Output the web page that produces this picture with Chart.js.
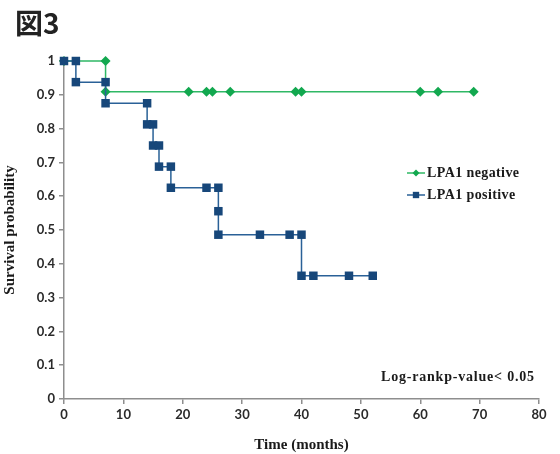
<!DOCTYPE html>
<html>
<head>
<meta charset="utf-8">
<script src="https://cdn.jsdelivr.net/npm/chart.js@4/dist/chart.umd.min.js"></script>
<style>
  html, body { margin: 0; padding: 0; background: #fff; }
  canvas { display: block; }
</style>
</head>
<body>
<canvas id="kmChart" width="560" height="454"></canvas>
<script>
// Kaplan-Meier curves (step points)
const negMonths = [0, 7, 7, 21, 24, 25, 28, 39, 40, 60, 63, 69];
const negSurvival = [1, 1, 0.909, 0.909, 0.909, 0.909, 0.909, 0.909, 0.909, 0.909, 0.909, 0.909];

const posMonths = [0, 2, 2, 7, 7, 14, 14, 15, 15, 16, 16, 18, 18, 24, 26, 26, 26, 33, 38, 40, 40, 42, 48, 52];
const posSurvival = [1, 1, 0.9375, 0.9375, 0.875, 0.875, 0.8125, 0.8125, 0.75, 0.75, 0.6875, 0.6875,
  0.625, 0.625, 0.625, 0.5556, 0.4861, 0.4861, 0.4861, 0.4861, 0.3646, 0.3646, 0.3646, 0.3646];

const xTicks = [0, 10, 20, 30, 40, 50, 60, 70, 80];
const yTicks = [0, 0.1, 0.2, 0.3, 0.4, 0.5, 0.6, 0.7, 0.8, 0.9, 1];

const seriesLabels = ['LPA1 negative', 'LPA1 positive'];
const figureTitle = '図3';
const pValueNote = 'Log-rankp-value< 0.05';

const toPoints = (xs, ys) => xs.map((x, i) => ({ x: x, y: ys[i] }));

const axisGrey = '#8e8e8e';
const tickFont = { family: "Lato, 'Open Sans', sans-serif", size: 13, weight: 'bold' };
const serifBold = { family: "'Liberation Serif', 'DejaVu Serif', serif", size: 15, weight: 'bold' };

// Title, p-value note and the line+marker legend
const annotations = {
  id: 'annotations',
  afterDraw(chart) {
    const ctx = chart.ctx;
    ctx.save();
    ctx.fillStyle = '#222';
    ctx.font = "bold 28px 'Noto Sans CJK JP', sans-serif";
    ctx.textBaseline = 'middle';
    ctx.textAlign = 'left';
    ctx.fillText(figureTitle, 15, 23);

    ctx.fillStyle = '#1a1a1a';
    ctx.font = "bold 14px 'Liberation Serif', serif";
    ctx.letterSpacing = '0.8px';
    ctx.fillText(pValueNote, 381, 377);

    // legend, green first
    const order = [1, 0];
    const legendY = [173, 195];
    ctx.letterSpacing = '0.4px';
    order.forEach((dsIndex, row) => {
      const ds = chart.data.datasets[dsIndex];
      const y = legendY[row];
      ctx.strokeStyle = ds.borderColor;
      ctx.lineWidth = 1.5;
      ctx.beginPath();
      ctx.moveTo(407, y);
      ctx.lineTo(425, y);
      ctx.stroke();
      ctx.fillStyle = ds.pointBackgroundColor;
      ctx.strokeStyle = ds.pointBorderColor;
      Chart.helpers.drawPoint(ctx, {
        pointStyle: ds.pointStyle,
        rotation: 0,
        radius: ds.pointRadius - 1.5,
        borderWidth: 0
      }, 416, y);
      ctx.fillStyle = '#1a1a1a';
      ctx.font = "bold 14px 'Liberation Serif', serif";
      ctx.fillText(ds.label, 427, y);
    });
    ctx.restore();
  }
};

new Chart(document.getElementById('kmChart'), {
  type: 'line',
  data: {
    datasets: [{
      label: seriesLabels[1],
      data: toPoints(posMonths, posSurvival),
      borderColor: '#2a6197',
      borderWidth: 1.5,
      pointStyle: 'rect',
      pointRadius: 6,
      pointBackgroundColor: '#17477a',
      pointBorderColor: '#17477a',
      pointBorderWidth: 0,
      tension: 0,
      clip: false,
      order: 0
    }, {
      label: seriesLabels[0],
      data: toPoints(negMonths, negSurvival),
      borderColor: '#2fb865',
      borderWidth: 1.5,
      pointStyle: 'rectRot',
      pointRadius: 5,
      pointBackgroundColor: '#12a84f',
      pointBorderColor: '#12a84f',
      pointBorderWidth: 0,
      tension: 0,
      clip: false,
      order: 1
    }]
  },
  options: {
    responsive: false,
    animation: false,
    layout: {
      padding: { top: 61, right: 21, left: 0, bottom: 0 }
    },
    plugins: {
      legend: { display: false },
      tooltip: { enabled: false }
    },
    scales: {
      x: {
        type: 'linear',
        min: 0,
        max: 80,
        afterFit: function(scale) { scale.height = 55; },
        afterBuildTicks: function(scale) { scale.ticks = xTicks.map(v => ({ value: v })); },
        border: { display: true, color: axisGrey, width: 1.5 },
        grid: { drawOnChartArea: false, drawTicks: true, tickLength: 5, color: axisGrey, lineWidth: 1.5 },
        ticks: { color: '#2a2a2a', font: tickFont, padding: 3, maxRotation: 0 },
        title: {
          display: true,
          text: 'Time (months)',
          color: '#1a1a1a',
          font: serifBold,
          padding: { top: 0, bottom: 0 }
        }
      },
      y: {
        type: 'linear',
        min: 0,
        max: 1,
        afterFit: function(scale) { scale.width = 64; },
        afterBuildTicks: function(scale) { scale.ticks = yTicks.map(v => ({ value: v })); },
        border: { display: true, color: axisGrey, width: 1.5 },
        grid: { drawOnChartArea: false, drawTicks: true, tickLength: 5, color: axisGrey, lineWidth: 1.5 },
        ticks: {
          color: '#2a2a2a',
          font: tickFont,
          padding: 4,
          callback: function(value) {
            return String(Math.round(value * 10) / 10);
          }
        },
        title: {
          display: true,
          text: 'Survival probability',
          color: '#1a1a1a',
          font: serifBold,
          padding: { top: 1, bottom: 0 }
        }
      }
    }
  },
  plugins: [annotations]
});
</script>
</body>
</html>
